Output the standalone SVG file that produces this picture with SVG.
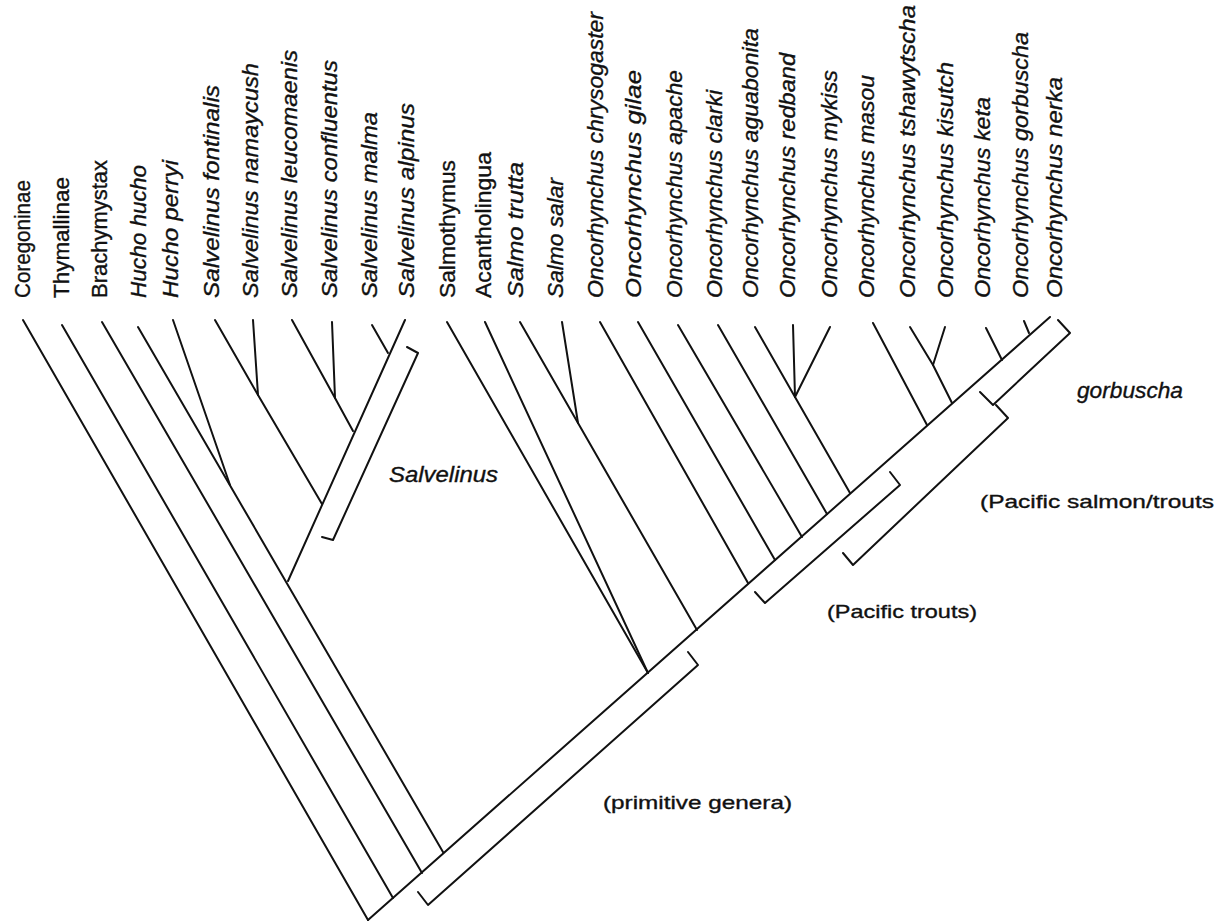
<svg xmlns="http://www.w3.org/2000/svg" width="1223" height="924" viewBox="0 0 1223 924">
<style>
.ln{stroke:#111;stroke-width:2;fill:none;stroke-linecap:round;stroke-linejoin:round}
.t{font-family:"Liberation Sans",Arial,sans-serif;font-size:22px;fill:#111;stroke:#111;stroke-width:0.35}
.i{font-style:italic}
.g{font-family:"Liberation Sans",Arial,sans-serif;font-size:19px;fill:#111;stroke:#111;stroke-width:0.35}
</style>
<rect width="1223" height="924" fill="#fff"/>
<g id="labels">
<g id="n-coregoninae"><text class="t" transform="translate(30,298) rotate(-90)" textLength="118" lengthAdjust="spacingAndGlyphs">Coregoninae</text></g>
<g id="n-thymallinae"><text class="t" transform="translate(69,298) rotate(-90)" textLength="121" lengthAdjust="spacingAndGlyphs">Thymallinae</text></g>
<g id="n-brachymystax"><text class="t" transform="translate(107,298) rotate(-90)" textLength="138" lengthAdjust="spacingAndGlyphs">Brachymystax</text></g>
<g id="n-hucho-hucho"><text class="t i" transform="translate(146,298) rotate(-90)" textLength="133" lengthAdjust="spacingAndGlyphs">Hucho hucho</text></g>
<g id="n-hucho-perryi"><text class="t i" transform="translate(178,298) rotate(-90)" textLength="138" lengthAdjust="spacingAndGlyphs">Hucho perryi</text></g>
<g id="n-s-fontinalis"><text class="t i" transform="translate(219,298) rotate(-90)" textLength="213" lengthAdjust="spacingAndGlyphs">Salvelinus fontinalis</text></g>
<g id="n-s-namaycush"><text class="t i" transform="translate(258,298) rotate(-90)" textLength="235" lengthAdjust="spacingAndGlyphs">Salvelinus namaycush</text></g>
<g id="n-s-leucomaenis"><text class="t i" transform="translate(297,298) rotate(-90)" textLength="248" lengthAdjust="spacingAndGlyphs">Salvelinus leucomaenis</text></g>
<g id="n-s-confluentus"><text class="t i" transform="translate(337,298) rotate(-90)" textLength="238" lengthAdjust="spacingAndGlyphs">Salvelinus confluentus</text></g>
<g id="n-s-malma"><text class="t i" transform="translate(377,298) rotate(-90)" textLength="186" lengthAdjust="spacingAndGlyphs">Salvelinus malma</text></g>
<g id="n-s-alpinus"><text class="t i" transform="translate(414,298) rotate(-90)" textLength="195" lengthAdjust="spacingAndGlyphs">Salvelinus alpinus</text></g>
<g id="n-salmothymus"><text class="t" transform="translate(455,298) rotate(-90)" textLength="138" lengthAdjust="spacingAndGlyphs">Salmothymus</text></g>
<g id="n-acantholingua"><text class="t" transform="translate(491,298) rotate(-90)" textLength="146" lengthAdjust="spacingAndGlyphs">Acantholingua</text></g>
<g id="n-salmo-trutta"><text class="t i" transform="translate(523,298) rotate(-90)" textLength="136" lengthAdjust="spacingAndGlyphs">Salmo trutta</text></g>
<g id="n-salmo-salar"><text class="t i" transform="translate(563,298) rotate(-90)" textLength="120" lengthAdjust="spacingAndGlyphs">Salmo salar</text></g>
<g id="n-o-chrysogaster"><text class="t i" transform="translate(603,298) rotate(-90)" textLength="286" lengthAdjust="spacingAndGlyphs">Oncorhynchus chrysogaster</text></g>
<g id="n-o-gilae"><text class="t i" transform="translate(641,298) rotate(-90)" textLength="228" lengthAdjust="spacingAndGlyphs">Oncorhynchus gilae</text></g>
<g id="n-o-apache"><text class="t i" transform="translate(682,298) rotate(-90)" textLength="228" lengthAdjust="spacingAndGlyphs">Oncorhynchus apache</text></g>
<g id="n-o-clarki"><text class="t i" transform="translate(722,298) rotate(-90)" textLength="208" lengthAdjust="spacingAndGlyphs">Oncorhynchus clarki</text></g>
<g id="n-o-aguabonita"><text class="t i" transform="translate(758,298) rotate(-90)" textLength="270" lengthAdjust="spacingAndGlyphs">Oncorhynchus aguabonita</text></g>
<g id="n-o-redband"><text class="t i" transform="translate(795,298) rotate(-90)" textLength="245" lengthAdjust="spacingAndGlyphs">Oncorhynchus redband</text></g>
<g id="n-o-mykiss"><text class="t i" transform="translate(837,298) rotate(-90)" textLength="228" lengthAdjust="spacingAndGlyphs">Oncorhynchus mykiss</text></g>
<g id="n-o-masou"><text class="t i" transform="translate(874,298) rotate(-90)" textLength="223" lengthAdjust="spacingAndGlyphs">Oncorhynchus masou</text></g>
<g id="n-o-tshawytscha"><text class="t i" transform="translate(915,298) rotate(-90)" textLength="293" lengthAdjust="spacingAndGlyphs">Oncorhynchus tshawytscha</text></g>
<g id="n-o-kisutch"><text class="t i" transform="translate(953,298) rotate(-90)" textLength="236" lengthAdjust="spacingAndGlyphs">Oncorhynchus kisutch</text></g>
<g id="n-o-keta"><text class="t i" transform="translate(990,298) rotate(-90)" textLength="201" lengthAdjust="spacingAndGlyphs">Oncorhynchus keta</text></g>
<g id="n-o-gorbuscha"><text class="t i" transform="translate(1028,298) rotate(-90)" textLength="266" lengthAdjust="spacingAndGlyphs">Oncorhynchus gorbuscha</text></g>
<g id="n-o-nerka"><text class="t i" transform="translate(1062,298) rotate(-90)" textLength="221" lengthAdjust="spacingAndGlyphs">Oncorhynchus nerka</text></g>
</g>
<g id="connectors" class="ln">
<path d="M368,920 L1050,317"/>
<path d="M23,320 L368,920"/>
<path d="M62,325 L393,898"/>
<path d="M102,322 L422,873"/>
<path d="M138,327 L443,852"/>
<path d="M173,320 L230,485"/>
<path d="M405,320 L288,581"/>
<path d="M372,325 L388,353"/>
<path d="M292,320 L335,398 L353,431"/>
<path d="M332,322 L335,398"/>
<path d="M215,320 L258,395 L322,504"/>
<path d="M253,320 L258,395"/>
<path d="M447,322 L648,673"/>
<path d="M485,322 L648,673"/>
<path d="M520,322 L578,423 L697,630"/>
<path d="M562,322 L578,423"/>
<path d="M600,322 L748,583"/>
<path d="M638,322 L775,560"/>
<path d="M678,325 L802,537"/>
<path d="M718,325 L827,514"/>
<path d="M755,327 L795,397 L850,493"/>
<path d="M793,325 L795,397"/>
<path d="M830,327 L795,397"/>
<path d="M873,323 L927,425"/>
<path d="M910,327 L933,365 L952,403"/>
<path d="M945,327 L933,365"/>
<path d="M986,328 L1002,360"/>
<path d="M1024,321 L1029,333"/>
</g>
<g id="bracket-salvelinus">
<path class="ln" d="M407,347 L418,353 L333,540 L322,537"/>
<text class="t i" x="389" y="482" font-size="20" textLength="109" lengthAdjust="spacingAndGlyphs">Salvelinus</text>
</g>
<g id="bracket-primitive">
<path class="ln" d="M418,892 L428,905 L698,665 L688,652"/>
<text class="g" x="603" y="809" textLength="189" lengthAdjust="spacingAndGlyphs">(primitive genera)</text>
</g>
<g id="bracket-pacific-trouts">
<path class="ln" d="M755,592 L765,603 L900,485 L890,472"/>
<text class="g" x="827" y="618" textLength="150" lengthAdjust="spacingAndGlyphs">(Pacific trouts)</text>
</g>
<g id="bracket-pacific-salmon">
<path class="ln" d="M843,553 L853,565 L1008,418 L996,405"/>
<text class="g" x="980" y="508" font-size="20" textLength="234" lengthAdjust="spacingAndGlyphs">(Pacific salmon/trouts</text>
</g>
<g id="bracket-gorbuscha">
<path class="ln" d="M980,392 L993,405 L1070,333 L1058,320"/>
<text class="t i" x="1077" y="398" font-size="20" textLength="106" lengthAdjust="spacingAndGlyphs">gorbuscha</text>
</g>
</svg>
